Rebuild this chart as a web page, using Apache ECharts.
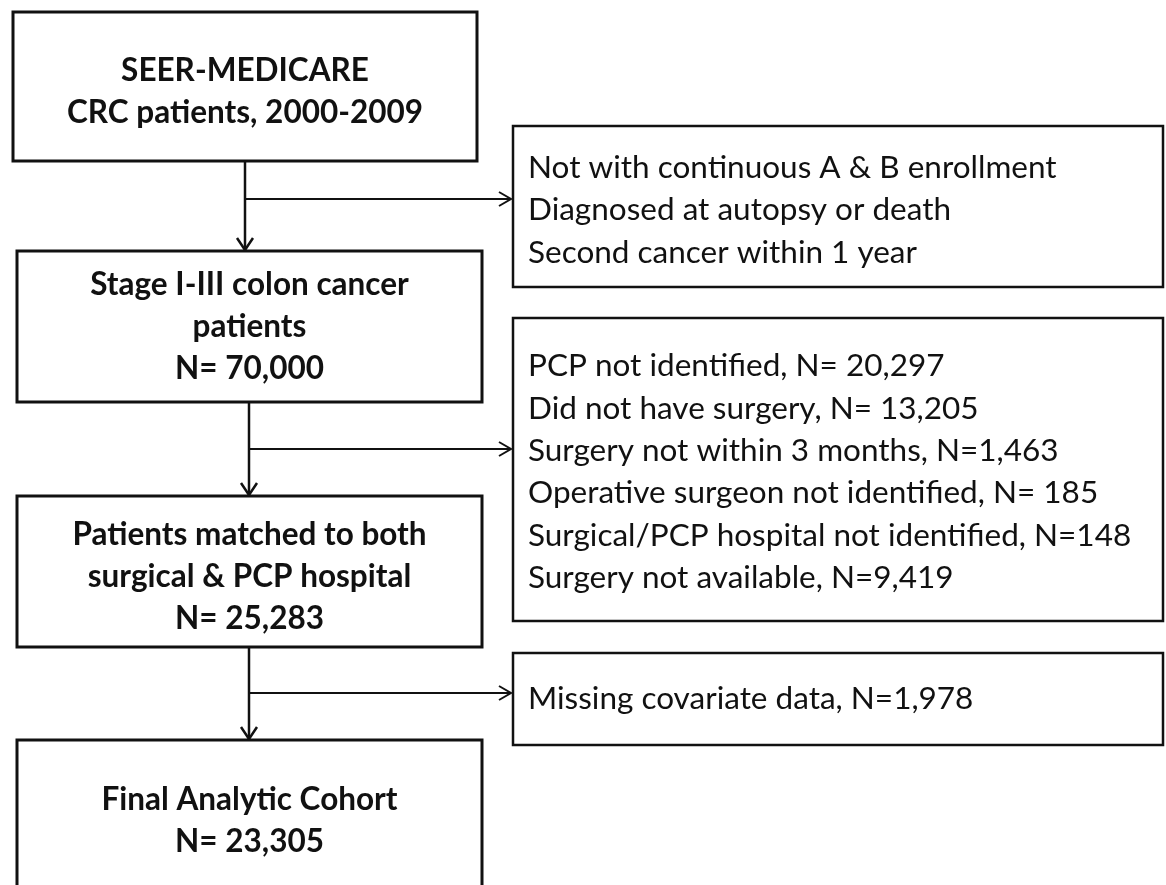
<!DOCTYPE html>
<html><head><meta charset="utf-8">
<script src="https://cdn.jsdelivr.net/npm/echarts@6/dist/echarts.min.js"></script>
<style>html,body{margin:0;padding:0;background:#fff}#c{width:1166px;height:885px}</style>
</head><body><div id="c"></div>
<script>
// ---- content ----
const mainSteps = [
  ["SEER-MEDICARE", "CRC patients, 2000-2009"],
  ["Stage I-III colon cancer", "patients", "N= 70,000"],
  ["Patients matched to both", "surgical & PCP hospital", "N= 25,283"],
  ["Final Analytic Cohort", "N= 23,305"]
];
const exclusions = [
  ["Not with continuous A & B enrollment", "Diagnosed at autopsy or death", "Second cancer within 1 year"],
  ["PCP not identified, N= 20,297", "Did not have surgery, N= 13,205", "Surgery not within 3 months, N=1,463",
   "Operative surgeon not identified, N= 185", "Surgical/PCP hospital not identified, N=148", "Surgery not available, N=9,419"],
  ["Missing covariate data, N=1,978"]
];
// ---- layout (axis units = page pixels) ----
const mainBoxes = [[13,12,477,161],[17,251,482,402],[17,496,482,647],[17,740,482,900]];
const mainTextY = [92, 327, 577, 821];
const sideBoxes = [[513,126,1163,287],[513,318,1163,621],[513,653,1163,745]];
const sideTextX = 528;
const sideTextY = [210, 472, 699];
const flows = [[245,161,251,199],[249,402,496,449],[249,647,740,693]];
const sideLeft = 512;

const FONT = 'Lato, "Open Sans", sans-serif';
const chart = echarts.init(document.getElementById('c'), null, {renderer:'canvas'});

function boxItem(params, api){
  const kind = api.value(0), i = api.value(1);
  const b = kind === 0 ? mainBoxes[i] : sideBoxes[i];
  const p0 = api.coord([b[0], b[1]]), p1 = api.coord([b[2], b[3]]);
  const children = [{
    type:'rect', shape:{x:p0[0], y:p0[1], width:p1[0]-p0[0], height:p1[1]-p0[1]},
    style:{fill:'#fff', stroke:'#111', lineWidth: kind===0 ? 3 : 2.5}
  }];
  if (kind === 0) {
    const c = api.coord([(b[0]+b[2])/2, mainTextY[i]]);
    children.push({type:'text', style:{text: mainSteps[i].join('\n'), x:c[0], y:c[1],
      align:'center', verticalAlign:'middle', fontFamily:FONT, fontWeight:'bold', fontSize:31.5, lineHeight:42, fill:'#111'}});
  } else {
    const c = api.coord([sideTextX, sideTextY[i]]);
    children.push({type:'text', style:{text: exclusions[i].join('\n'), x:c[0], y:c[1],
      align:'left', verticalAlign:'middle', fontFamily:FONT, fontSize:31.5, lineHeight:42.4, fill:'#111'}});
  }
  return {type:'group', children};
}

function flowItem(params, api){
  const f = flows[api.value(0)];
  const top = api.coord([f[0], f[1]]), bot = api.coord([f[0], f[2]]);
  const hs = api.coord([f[0], f[3]]), he = api.coord([sideLeft, f[3]]);
  const st = {stroke:'#111', lineWidth:2.5, fill:null};
  return {type:'group', children:[
    {type:'line', shape:{x1:top[0], y1:top[1], x2:bot[0], y2:bot[1]-1}, style:st},
    {type:'polyline', shape:{points:[[bot[0]-8,bot[1]-13],[bot[0],bot[1]-1],[bot[0]+8,bot[1]-13]]}, style:st},
    {type:'line', shape:{x1:hs[0], y1:hs[1], x2:he[0]-1, y2:he[1]}, style:{stroke:'#111', lineWidth:2}},
    {type:'polyline', shape:{points:[[he[0]-13,he[1]-7],[he[0]-1,he[1]],[he[0]-13,he[1]+7]]}, style:{stroke:'#111', lineWidth:2, fill:null}}
  ]};
}

chart.setOption({
  backgroundColor:'#fff',
  animation:false,
  grid:{left:0, right:0, top:0, bottom:0},
  xAxis:{type:'value', min:0, max:1166, show:false},
  yAxis:{type:'value', min:0, max:885, inverse:true, show:false},
  series:[
    {type:'custom', coordinateSystem:'cartesian2d', clip:false, renderItem:flowItem,
     data: flows.map((f,i)=>[i]), z:1},
    {type:'custom', coordinateSystem:'cartesian2d', clip:false, renderItem:boxItem,
     data: mainSteps.map((s,i)=>[0,i]).concat(exclusions.map((s,i)=>[1,i])), z:2}
  ]
});
</script></body></html>
